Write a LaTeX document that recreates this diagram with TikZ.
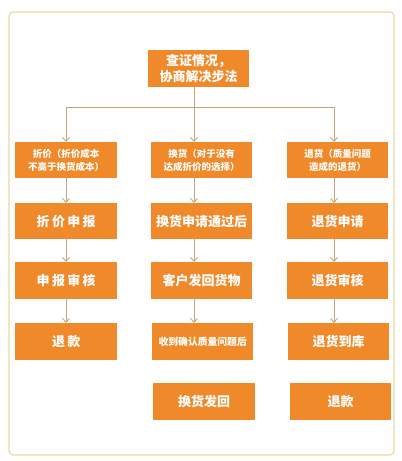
\documentclass[tikz,border=0pt]{standalone}
\usepackage{fontspec}
\newfontfamily\cjk{Noto Sans CJK SC}
\usetikzlibrary{arrows.meta}

\definecolor{boxorange}{HTML}{F0892A}
\definecolor{arrowtan}{HTML}{C9A277}
\definecolor{framegold}{HTML}{E9D9A0}

\tikzset{
  stepbox/.style={fill=boxorange, text=white, font=\cjk\bfseries, inner sep=0pt, anchor=north west},
  bigtext/.style={font=\cjk\bfseries\fontsize{13}{15}\selectfont},
  smalltext/.style={align=center, font=\cjk\bfseries\fontsize{9.5}{12.5}\selectfont},
  spaced/.style={font=\cjk\bfseries\fontsize{13}{15}\selectfont\addfontfeature{LetterSpace=18}},
  arr/.style={-{Straight Barb[length=4pt,width=7pt]}, arrowtan, line width=0.9pt}
}

\begin{document}
\begin{tikzpicture}[x=1pt,y=-1pt]

% Page and outer frame
\useasboundingbox (0,0) rectangle (402,461);
\fill[white] (0,0) rectangle (402,461);
\draw[framegold, line width=1.2pt, rounded corners=4pt] (9,12) rectangle (394,455);

% Arrow columns
\coordinate (cL) at (66,0);
\coordinate (cM) at (194,0);
\coordinate (cR) at (334,0);
\coordinate (bus) at (0,107);

% Top node
\node[stepbox, minimum width=101pt, minimum height=37pt, align=center, font=\cjk\bfseries\fontsize{13}{16}\selectfont]
  (top) at (148,50) {查证情况，\\协商解决步法};

% Row 1: the three ways
\node[stepbox, smalltext, minimum width=102pt, minimum height=36pt] (z1) at (15,142) {折价（折价成本\\不高于换货成本）};
\node[stepbox, smalltext, minimum width=101pt, minimum height=36pt] (h1) at (151,142) {换货（对于没有\\达成折价的选择）};
\node[stepbox, smalltext, minimum width=101pt, minimum height=36pt] (t1) at (287,142) {退货（质量问题\\造成的退货）};

% Row 2
\node[stepbox, spaced, minimum width=102pt, minimum height=36pt] (z2) at (15,203) {折价申报};
\node[stepbox, bigtext, minimum width=101pt, minimum height=36pt] (h2) at (151,203) {换货申请通过后};
\node[stepbox, bigtext, minimum width=101pt, minimum height=36pt] (t2) at (287,203) {退货申请};

% Row 3
\node[stepbox, spaced, minimum width=102pt, minimum height=37pt] (z3) at (15,262) {申报审核};
\node[stepbox, bigtext, minimum width=101pt, minimum height=37pt] (h3) at (151,262) {客户发回货物};
\node[stepbox, bigtext, minimum width=101pt, minimum height=37pt] (t3) at (287,262) {退货审核};

% Row 4
\node[stepbox, spaced, minimum width=102pt, minimum height=37pt] (z4) at (15,323) {退款};
\node[stepbox, minimum width=101pt, minimum height=37pt, font=\cjk\bfseries\fontsize{9.8}{12}\selectfont]
  (h4) at (152,323) {收到确认质量问题后};
\node[stepbox, bigtext, minimum width=101pt, minimum height=37pt] (t4) at (288,323) {退货到库};

% Row 5
\node[stepbox, bigtext, minimum width=102pt, minimum height=37pt] (h5) at (153,383) {换货发回};
\node[stepbox, bigtext, minimum width=101pt, minimum height=37pt] (t5) at (290,383) {退款};

% Branching from the top node
\draw[arrowtan, line width=0.9pt] (top.south -| cM) -- (bus -| cM);
\draw[arrowtan, line width=0.9pt] (bus -| cL) -- (bus -| cR);
\draw[arr] (bus -| cL) -- (z1.north -| cL);
\draw[arr] (bus -| cM) -- (h1.north -| cM);
\draw[arr] (bus -| cR) -- (t1.north -| cR);

% Left column
\draw[arr] (z1.south -| cL) -- (z2.north -| cL);
\draw[arr] (z2.south -| cL) -- (z3.north -| cL);
\draw[arr] (z3.south -| cL) -- (z4.north -| cL);

% Middle column
\draw[arr] (h1.south -| cM) -- (h2.north -| cM);
\draw[arr] (h2.south -| cM) -- (h3.north -| cM);
\draw[arr] (h3.south -| cM) -- (h4.north -| cM);

% Right column
\draw[arr] (t1.south -| cR) -- (t2.north -| cR);
\draw[arr] (t2.south -| cR) -- (t3.north -| cR);
\draw[arr] (t3.south -| cR) -- (t4.north -| cR);

\end{tikzpicture}
\end{document}
